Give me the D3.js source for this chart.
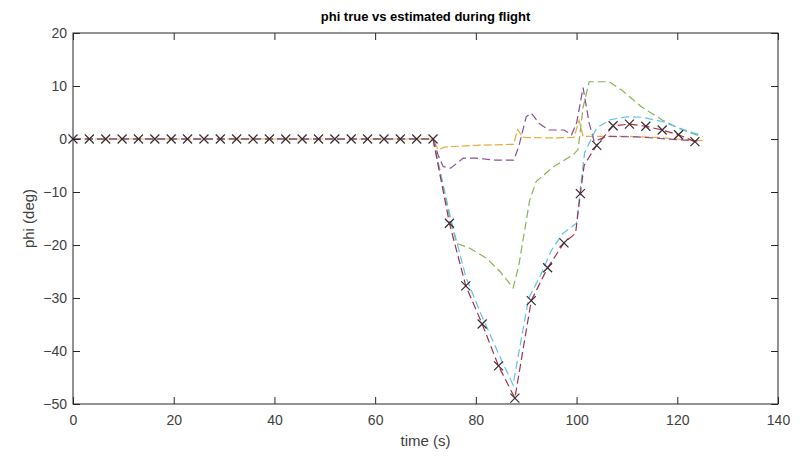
<!DOCTYPE html>
<html>
<head>
<meta charset="utf-8">
<script src="https://cdn.jsdelivr.net/npm/d3@7"></script>
<style>
  body { margin: 0; background: #fff; }
  svg { display: block; font-family: "Liberation Sans", Arial, sans-serif; }
  .tick text { fill: #404040; font-size: 14px; }
  .tick line { stroke: #262626; }
</style>
</head>
<body>
<div id="chart"></div>
<script>
// phi true vs estimated
const trueTime = [0, 71.5, 74.75, 78, 81.25, 84.5, 87.75, 91, 94.25, 97.5, 99.8, 100.75, 101.5, 102.5, 104, 107.25, 110.5, 113.75, 117, 120.25, 123.5];
const truePhi  = [0, 0, -15.9, -27.7, -34.9, -42.8, -48.9, -30.5, -24.3, -19.6, -17.8, -10.3, -5.0, -3.4, -1.2, 2.5, 2.8, 2.4, 1.7, 0.8, -0.5];

const markTime = [0, 3.25, 6.5, 9.75, 13, 16.25, 19.5, 22.75, 26, 29.25, 32.5, 35.75, 39, 42.25, 45.5, 48.75, 52, 55.25, 58.5, 61.75, 65, 68.25, 71.5,
  74.75, 78, 81.25, 84.5, 87.75, 91, 94.25, 97.5, 100.75, 104, 107.25, 110.5, 113.75, 117, 120.25, 123.5];
const markPhi  = [0, 0, 0, 0, 0, 0, 0, 0, 0, 0, 0, 0, 0, 0, 0, 0, 0, 0, 0, 0, 0, 0, 0,
  -15.9, -27.7, -34.9, -42.8, -48.9, -30.5, -24.3, -19.6, -10.3, -1.2, 2.5, 2.8, 2.4, 1.7, 0.8, -0.5];

const cyanTime = [0, 71.5, 75, 78, 81, 84.5, 87.4, 88.4, 90.5, 92.7, 95, 97.3, 100, 100.8, 101.6, 104, 106.6, 110, 113, 117, 120, 123, 125];
const cyanPhi  = [0, 0, -15.0, -26.0, -33.0, -40.5, -46.4, -41.0, -30.0, -26.0, -21.0, -17.8, -15.9, -9.0, -2.6, 2.1, 3.6, 4.2, 4.1, 3.3, 2.2, 1.2, 0.7];

const greenTime = [0, 71.5, 74.9, 76.2, 78.8, 82.1, 84.8, 87.4, 88.5, 90.7, 92, 95.3, 99.3, 100.3, 101.3, 102.5, 106.5, 109, 113, 117, 121, 125];
const greenPhi  = [0, 0, -15.3, -19.7, -20.6, -22.5, -25.0, -28.1, -24.0, -11.5, -8.0, -5.3, -3.0, -2.0, 6.0, 10.8, 10.8, 9.2, 6.0, 3.6, 1.7, 0.4];

const purpleTime = [0, 71.5, 72.5, 73.5, 75, 77.5, 80, 84, 87.5, 88.5, 90, 91, 92.5, 94.5, 97.5, 99, 100, 101.3, 102.5, 103.5, 106, 112, 118, 124];
const purplePhi  = [0, 0, -3.0, -5.2, -5.5, -3.6, -3.6, -4.0, -4.0, -1.5, 4.2, 4.9, 3.0, 1.7, 1.7, 0.8, 3.0, 9.7, 3.0, -0.5, 0.5, 0.4, 0.0, -0.4];

const yellowTime = [0, 71.5, 72.5, 74, 80, 87.5, 88.3, 89.3, 95, 99.5, 100.5, 101.3, 104, 110, 116, 120, 125];
const yellowPhi  = [0, 0, -2.0, -1.5, -1.2, -1.0, 1.8, 0.3, 0.2, 0.3, 3.5, 0.5, 0.5, 0.5, 0.3, 0.0, -0.3];

const xTicks = [0, 20, 40, 60, 80, 100, 120, 140];
const yTicks = [-50, -40, -30, -20, -10, 0, 10, 20];

const W = 806, H = 458;
const margin = { left: 73, right: 28, top: 33, bottom: 54 };

const svg = d3.select("#chart").append("svg")
  .attr("width", W).attr("height", H);

const x = d3.scaleLinear().domain([0, 140]).range([margin.left, W - margin.right]);
const y = d3.scaleLinear().domain([-50, 20]).range([H - margin.bottom, margin.top]);

const series = [
  { t: yellowTime, v: yellowPhi, color: "#e8ac3a", dash: "8,3" },
  { t: purpleTime, v: purplePhi, color: "#8a4c99", dash: "8,4" },
  { t: greenTime, v: greenPhi, color: "#86b453", dash: "8,4" },
  { t: cyanTime, v: cyanPhi, color: "#5cc2ee", dash: "8,4" },
  { t: trueTime, v: truePhi, color: "#a3304a", dash: "8,4" }
];

const line = d3.line()
  .x(function (d) { return x(d[0]); })
  .y(function (d) { return y(d[1]); });

svg.selectAll(".est")
  .data(series)
  .enter().append("path")
  .attr("class", "est")
  .attr("d", function (s) { return line(d3.zip(s.t, s.v)); })
  .attr("fill", "none")
  .attr("stroke", function (s) { return s.color; })
  .attr("stroke-width", 1.2)
  .attr("stroke-dasharray", function (s) { return s.dash; });

// x markers on the true angle
const m = 4.5;
svg.selectAll(".mark")
  .data(d3.zip(markTime, markPhi))
  .enter().append("path")
  .attr("class", "mark")
  .attr("d", function (d) {
    const cx = x(d[0]), cy = y(d[1]);
    return "M" + (cx - m) + "," + (cy - m) + "L" + (cx + m) + "," + (cy + m) +
      "M" + (cx - m) + "," + (cy + m) + "L" + (cx + m) + "," + (cy - m);
  })
  .attr("stroke", "#3a2a30")
  .attr("stroke-width", 1.2)
  .attr("fill", "none");

// axes, ticks pointing inward like matlab
const tk = 7;
const gx = svg.append("g")
  .attr("transform", "translate(0," + (H - margin.bottom) + ")")
  .call(d3.axisBottom(x).tickValues(xTicks).tickSizeInner(-tk).tickSizeOuter(0).tickPadding(11));
const gy = svg.append("g")
  .attr("transform", "translate(" + margin.left + ",0)")
  .call(d3.axisLeft(y).tickValues(yTicks).tickSizeInner(-tk).tickSizeOuter(0).tickPadding(6));
const gxt = svg.append("g")
  .attr("transform", "translate(0," + margin.top + ")")
  .call(d3.axisTop(x).tickValues(xTicks).tickSizeInner(-tk).tickSizeOuter(0).tickFormat(""));
const gyr = svg.append("g")
  .attr("transform", "translate(" + (W - margin.right) + ",0)")
  .call(d3.axisRight(y).tickValues(yTicks).tickSizeInner(-tk).tickSizeOuter(0).tickFormat(""));

[gx, gy, gxt, gyr].forEach(function (g) {
  g.select(".domain").remove();
  g.selectAll("text").attr("font-family", null).attr("font-size", null);
});

svg.append("rect")
  .attr("x", margin.left).attr("y", margin.top)
  .attr("width", W - margin.left - margin.right)
  .attr("height", H - margin.top - margin.bottom)
  .attr("fill", "none")
  .attr("stroke", "#262626")
  .attr("stroke-width", 1);

svg.append("text")
  .attr("x", (margin.left + W - margin.right) / 2)
  .attr("y", 21)
  .attr("text-anchor", "middle")
  .attr("font-size", 13)
  .attr("font-weight", "bold")
  .attr("fill", "#000")
  .text("phi true vs estimated during flight");

svg.append("text")
  .attr("x", (margin.left + W - margin.right) / 2)
  .attr("y", 446)
  .attr("text-anchor", "middle")
  .attr("font-size", 15)
  .attr("fill", "#404040")
  .text("time (s)");

svg.append("text")
  .attr("transform", "translate(34," + ((margin.top + H - margin.bottom) / 2) + ") rotate(-90)")
  .attr("text-anchor", "middle")
  .attr("font-size", 15)
  .attr("fill", "#404040")
  .text("phi (deg)");
</script>
</body>
</html>
